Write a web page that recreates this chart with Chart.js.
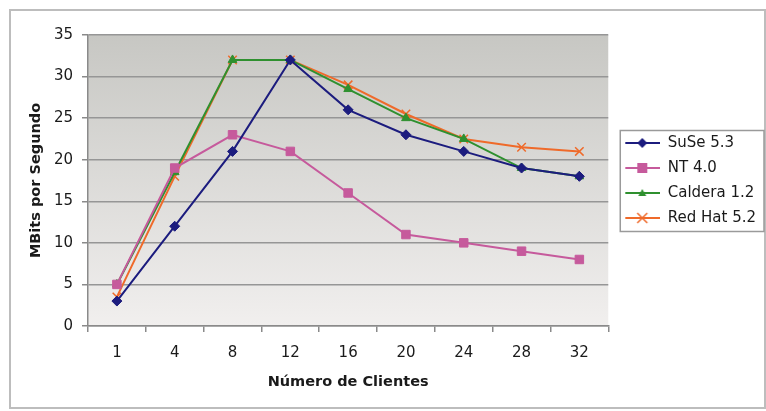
<!DOCTYPE html>
<html>
<head>
<meta charset="utf-8">
<script src="https://cdn.jsdelivr.net/npm/chart.js@4.4.1/dist/chart.umd.min.js"></script>
<style>
  body { margin: 0; background: #fff; }
  canvas { display: block; }
</style>
</head>
<body>
<canvas id="myChart" width="766" height="411"></canvas>
<script>
'use strict';
let clients = ['1', '4', '8', '12', '16', '20', '24', '28', '32'];
let suse = [3, 12, 21, 32, 26, 23, 21, 19, 18];
let nt = [5, 19, 23, 21, 16, 11, 10, 9, 8];
let caldera = [5, 18.5, 32, 32, 28.5, 25, 22.5, 19, 18];
let redhat = [3.5, 18, 32, 32, 29, 25.5, 22.5, 21.5, 21];
let seriesNames = ['SuSe 5.3', 'NT 4.0', 'Caldera 1.2', 'Red Hat 5.2'];
let colors = ['#1c1c7e', '#c65a9c', '#2f902f', '#ef6a2a'];
let markers = ['rectRot', 'rect', 'triangle', 'crossRot'];

Chart.defaults.font.family = "'DejaVu Sans', sans-serif";
Chart.defaults.color = '#1a1a1a';

// little line + marker pictures for the legend
function legendIcon(color, marker) {
    let c = document.createElement('canvas');
    c.width = 42;
    c.height = 14;
    let g = c.getContext('2d');
    g.strokeStyle = color;
    g.fillStyle = color;
    g.lineWidth = 2;
    g.beginPath();
    g.moveTo(7, 7);
    g.lineTo(42, 7);
    g.stroke();
    let cx = 24, cy = 7;
    g.beginPath();
    if (marker === 'rectRot') {
        g.moveTo(cx, cy - 5); g.lineTo(cx + 5, cy); g.lineTo(cx, cy + 5); g.lineTo(cx - 5, cy);
        g.closePath(); g.fill();
    } else if (marker === 'rect') {
        g.fillRect(cx - 5, cy - 5, 10, 10);
    } else if (marker === 'triangle') {
        g.moveTo(cx, cy - 4); g.lineTo(cx + 4, cy + 3); g.lineTo(cx - 4, cy + 3);
        g.closePath(); g.fill();
    } else {
        g.lineWidth = 1.5;
        g.moveTo(cx - 5, cy - 5); g.lineTo(cx + 5, cy + 5);
        g.moveTo(cx + 5, cy - 5); g.lineTo(cx - 5, cy + 5);
        g.stroke();
    }
    return c;
}

let icons = [];
for (let i = 0; i < colors.length; i++) {
    icons.push(legendIcon(colors[i], markers[i]));
}

let framePlugin = {
    id: 'frame',
    beforeDraw(chart) {
        let ctx = chart.ctx;
        let a = chart.chartArea;
        ctx.save();
        ctx.fillStyle = '#ffffff';
        ctx.fillRect(0, 0, chart.width, chart.height);
        ctx.strokeStyle = '#bdbdbd';
        ctx.lineWidth = 2;
        ctx.strokeRect(10, 10, 755, 398);
        let grad = ctx.createLinearGradient(0, a.top, 0, a.bottom);
        grad.addColorStop(0, '#c7c7c3');
        grad.addColorStop(1, '#f1efee');
        ctx.fillStyle = grad;
        ctx.fillRect(a.left, a.top, a.right - a.left, a.bottom - a.top);
        ctx.restore();
    },
    afterDraw(chart) {
        let boxes = chart.legend.legendHitBoxes;
        if (!boxes || !boxes.length) return;
        let left = Math.min(...boxes.map(b => b.left));
        let top = Math.min(...boxes.map(b => b.top));
        let right = Math.max(...boxes.map(b => b.left + b.width));
        let bottom = Math.max(...boxes.map(b => b.top + b.height));
        let ctx = chart.ctx;
        ctx.save();
        ctx.strokeStyle = '#9a9a9a';
        ctx.lineWidth = 1.5;
        ctx.strokeRect(left + 2, top - 5, right - left + 6, bottom - top + 11);
        ctx.restore();
    }
};

let datasets = [];
let seriesData = [suse, nt, caldera, redhat];
let radii = [5, 6, 5, 6];
for (let i = 0; i < seriesData.length; i++) {
    datasets.push({
        label: seriesNames[i],
        data: seriesData[i],
        borderColor: colors[i],
        backgroundColor: colors[i],
        borderWidth: 2,
        pointStyle: markers[i],
        pointRadius: radii[i],
        pointBorderWidth: markers[i] === 'crossRot' ? 1.5 : 1,
        pointBackgroundColor: colors[i],
        pointBorderColor: colors[i],
        tension: 0
    });
}

let ctx = document.getElementById('myChart').getContext('2d');
let myChart = new Chart(ctx, {
    type: 'line',
    data: {
        labels: clients,
        datasets: datasets
    },
    plugins: [framePlugin],
    options: {
        responsive: false,
        animation: false,
        layout: {
            padding: { left: 14, top: 35, right: 0, bottom: 20 }
        },
        plugins: {
            tooltip: { enabled: false },
            legend: {
                position: 'right',
                fullSize: false,
                labels: {
                    usePointStyle: true,
                    pointStyleWidth: 42,
                    padding: 10,
                    font: { size: 15 },
                    color: '#1a1a1a',
                    generateLabels(chart) {
                        let items = Chart.defaults.plugins.legend.labels.generateLabels(chart);
                        items.forEach((it, i) => { it.pointStyle = icons[i]; });
                        return items;
                    }
                }
            }
        },
        scales: {
            x: {
                offset: true,
                afterFit(scale) { scale.height = 65; },
                grid: {
                    offset: true,
                    drawOnChartArea: false,
                    drawTicks: true,
                    tickLength: 6,
                    tickColor: '#8a8a8a',
                    lineWidth: 1.5
                },
                border: { color: '#8a8a8a', width: 1.5 },
                ticks: { padding: 12, font: { size: 15 }, color: '#1a1a1a', maxRotation: 0 },
                title: {
                    display: true,
                    text: 'Número de Clientes',
                    font: { size: 14.5, weight: 'bold' },
                    color: '#1a1a1a',
                    padding: { top: 0, bottom: 0 }
                }
            },
            y: {
                min: 0,
                max: 35,
                afterFit(scale) { scale.width = 74; },
                grid: {
                    color: '#969696',
                    lineWidth: 1.5,
                    tickLength: 6,
                    tickColor: '#8a8a8a'
                },
                border: { color: '#8a8a8a', width: 1.5 },
                ticks: { stepSize: 5, padding: 9, font: { size: 15 }, color: '#1a1a1a' },
                title: {
                    display: true,
                    text: 'MBits por Segundo',
                    font: { size: 14.5, weight: 'bold' },
                    color: '#1a1a1a',
                    padding: { top: 14, bottom: 0 }
                }
            }
        }
    }
});
</script>
</body>
</html>
